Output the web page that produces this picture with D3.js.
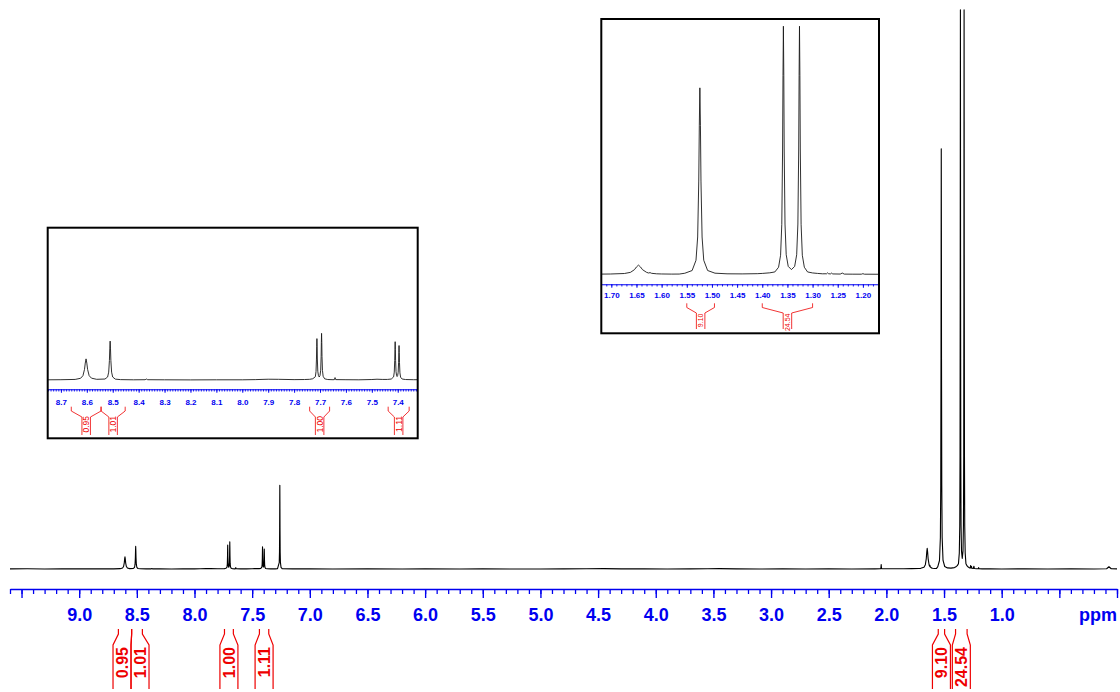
<!DOCTYPE html>
<html><head><meta charset="utf-8">
<script src="https://cdn.jsdelivr.net/npm/d3@7"></script>
<style>
html,body{margin:0;padding:0;background:#fff;}
svg{display:block;}
text{font-family:"Liberation Sans",Arial,Helvetica,sans-serif;}
</style></head><body>
<svg id="chart" width="1120" height="692"></svg>
<script>
// ---- spectrum trace: [ppm, intensity] (1.36 ppm peak = 100)
const spectrum = [
[9.60,0.02],[9.45,0.04],[9.30,0.01],[9.15,0.03],[9.00,0.02],[8.85,0.03],[8.75,0.02],[8.70,0.03],
[8.645,0.06],[8.624,0.18],[8.615,0.45],[8.609,1.1],[8.606,1.76],[8.603,2.2],[8.600,1.76],[8.597,1.1],[8.591,0.45],[8.582,0.19],[8.562,0.07],
[8.530,0.1],[8.5198,0.31],[8.5156,0.82],[8.5128,2.03],[8.5114,3.24],[8.510,4.05],[8.5086,3.24],[8.5072,2.03],[8.5044,0.82],[8.5002,0.31],[8.490,0.09],[8.470,0.04],
[8.42,0.02],[8.375,0.03],[8.370,0.1],[8.365,0.03],[8.30,0.02],[8.20,0.01],[8.10,0.02],[8.00,0.02],[7.95,0.04],[7.90,0.08],[7.86,0.07],[7.80,0.04],[7.76,0.05],
[7.740,0.07],[7.728,0.13],[7.718,0.34],[7.7154,0.89],[7.7137,2.18],[7.71285,3.46],[7.712,4.31],[7.7111,3.45],[7.7103,2.19],[7.7086,0.91],[7.7060,0.45],[7.7030,0.31],[7.7000,0.47],[7.6974,1.02],[7.6957,2.47],[7.69485,3.91],[7.694,4.86],[7.69315,3.89],[7.6923,2.45],[7.6906,1.0],[7.6880,0.39],[7.682,0.12],[7.670,0.05],[7.650,0.03],[7.6445,0.04],[7.642,0.25],[7.6395,0.04],[7.60,0.03],[7.55,0.02],[7.50,0.05],[7.48,0.08],[7.46,0.06],[7.44,0.06],
[7.425,0.1],[7.416,0.32],[7.4134,0.82],[7.4117,2.02],[7.41085,3.2],[7.410,3.99],[7.40915,3.2],[7.4083,2.02],[7.4066,0.87],[7.4045,0.45],[7.4025,0.36],[7.4005,0.45],[7.3984,0.79],[7.3967,1.84],[7.39585,2.89],[7.395,3.59],[7.39415,2.88],[7.3933,1.81],[7.3916,0.74],[7.389,0.29],[7.383,0.1],[7.37,0.05],[7.34,0.03],[7.30,0.03],
[7.28,0.06],[7.2653,1.13],[7.263,3.0],[7.2615,7.5],[7.26075,12.0],[7.26,15.0],[7.25925,12.0],[7.2585,7.5],[7.257,3.0],[7.2547,1.13],[7.2495,0.3],[7.24,0.06],
[7.15,0.02],[7.0,0.03],[6.8,0.01],[6.5,0.02],[6.2,0.0],[6.0,0.02],[5.7,0.01],[5.5,0.02],[5.2,0.0],[5.0,0.01],[4.8,0.03],[4.6,0.05],[4.45,0.07],[4.3,0.03],[4.1,0.02],[3.9,0.01],[3.7,0.02],[3.55,0.05],[3.45,0.06],[3.3,0.02],[3.1,0.01],[2.9,0.02],[2.7,0.01],[2.5,0.02],[2.3,0.01],[2.1,0.03],
[2.05,0.04],[2.047,0.3],[2.045,0.8],[2.043,0.3],[2.04,0.04],[1.95,0.04],[1.85,0.05],[1.78,0.07],
[1.72,0.08],[1.702,0.12],[1.674,0.32],[1.662,0.78],[1.654,1.87],[1.650,2.97],[1.646,3.7],[1.642,2.97],[1.638,1.87],[1.630,0.8],[1.626,0.52],[1.623,0.68],[1.620,0.4],[1.610,0.2],[1.60,0.13],[1.58,0.08],[1.565,0.1],
[1.554,0.42],[1.5394,1.52],[1.5317,5.66],[1.5284,15.07],[1.5262,37.66],[1.5251,60.2],[1.524,75.3],[1.5229,60.2],[1.5218,37.65],[1.5196,15.07],[1.5163,5.67],[1.5086,1.53],[1.494,0.45],[1.47,0.2],[1.44,0.16],[1.41,0.25],
[1.40,0.35],[1.385,0.6],[1.375,0.95],[1.3676,2.85],[1.3636,7.7],[1.3612,20.2],[1.3596,50.2],[1.3588,80.2],[1.358,100.2],[1.3572,80.2],[1.3564,50.2],[1.3548,20.3],[1.3524,7.9],[1.3484,3.2],[1.342,1.9],[1.3356,3.2],[1.3316,7.9],[1.3292,20.3],[1.3276,50.2],[1.3268,80.2],[1.326,100.2],[1.3252,80.2],[1.3244,50.2],[1.3228,20.2],[1.3204,7.7],[1.3164,2.85],[1.31,0.95],[1.30,0.55],[1.29,0.35],[1.28,0.2],
[1.272,0.22],[1.27,0.6],[1.268,0.2],[1.264,0.18],[1.262,0.5],[1.26,0.15],[1.245,0.1],[1.241,0.5],[1.237,0.08],[1.22,0.05],[1.203,0.04],[1.20,0.25],[1.197,0.04],[1.17,0.02],[1.10,0.02],[1.0,0.01],[0.8,0.02],[0.6,0.01],[0.4,0.02],[0.2,0.01],[0.09,0.04],[0.07,0.4],[0.05,0.04],[0.0,0.02]
];

// ---- main axis ticks
const mainMajorTicks = [9.5,9.0,8.5,8.0,7.5,7.0,6.5,6.0,5.5,5.0,4.5,4.0,3.5,3.0,2.5,2.0,1.5,1.0,0.5,0.0];
const mainTickLabels = ["","9.0","8.5","8.0","7.5","7.0","6.5","6.0","5.5","5.0","4.5","4.0","3.5","3.0","2.5","2.0","1.5","1.0","",""];
const axisUnit = "ppm";

// ---- integrals
const integralFrom   = [8.660, 8.545, 7.740, 7.437, 1.550, 1.400];
const integralTo     = [8.545, 8.452, 7.663, 7.356, 1.495, 1.300];
const integralLabels = ["0.95","1.01","1.00","1.11","9.10","24.54"];

// ---- insets
const inset1Ticks = [8.7,8.6,8.5,8.4,8.3,8.2,8.1,8.0,7.9,7.8,7.7,7.6,7.5,7.4];
const inset1TickLabels = ["8.7","8.6","8.5","8.4","8.3","8.2","8.1","8.0","7.9","7.8","7.7","7.6","7.5","7.4"];
const inset1Integrals = [0,1,2,3];
const inset2Ticks = [1.70,1.65,1.60,1.55,1.50,1.45,1.40,1.35,1.30,1.25,1.20];
const inset2TickLabels = ["1.70","1.65","1.60","1.55","1.50","1.45","1.40","1.35","1.30","1.25","1.20"];
const inset2Integrals = [4,5];

const BLUE = "#0000f0", RED = "#ee0000";
const svg = d3.select("#chart");

function drawAxis(g, x, y0, majors, labels, minors, majLen, minLen, lw, fontSize, labelY, fmtDigits) {
  const gMin = g.append("g").attr("transform", `translate(0,${y0})`)
    .call(d3.axisBottom(x).tickValues(minors).tickSize(minLen).tickSizeOuter(0).tickFormat(""));
  gMin.select(".domain").attr("stroke", BLUE).attr("stroke-width", lw);
  gMin.selectAll(".tick line").attr("stroke", BLUE).attr("stroke-width", lw*0.8);
  const labMap = new Map(majors.map((v,i)=>[v.toFixed(fmtDigits), labels[i]]));
  const gMaj = g.append("g").attr("transform", `translate(0,${y0})`)
    .call(d3.axisBottom(x).tickValues(majors).tickSize(majLen).tickSizeOuter(0)
      .tickFormat(d => labMap.get(d.toFixed(fmtDigits)) || ""));
  gMaj.select(".domain").remove();
  gMaj.selectAll(".tick line").attr("stroke", BLUE).attr("stroke-width", lw*0.85);
  gMaj.selectAll(".tick text").attr("y", labelY).attr("dy", 0).attr("fill", BLUE)
    .style("font-size", fontSize+"px").style("font-weight", "bold")
    .style("font-family", '"Liberation Sans",Arial,sans-serif');
}

function layoutBoxes(centers, w) {
  // centers ascending in pixel order; returns [left,right] per item
  const order = centers.map((c,i)=>({c,i})).sort((a,b)=>a.c-b.c);
  let clusters = [];
  order.forEach(o => {
    clusters.push({items:[o.i], sum:o.c});
    while (clusters.length > 1) {
      const a = clusters[clusters.length-2], b = clusters[clusters.length-1];
      const ra = a.sum/a.items.length + a.items.length*w/2;
      const lb = b.sum/b.items.length - b.items.length*w/2;
      if (lb < ra) { clusters.splice(-2, 2, {items:a.items.concat(b.items), sum:a.sum+b.sum}); }
      else break;
    }
  });
  const out = [];
  clusters.forEach(cl => {
    const n = cl.items.length, left = cl.sum/n - n*w/2;
    cl.items.forEach((idx,k) => out[idx] = [left + k*w, left + (k+1)*w]);
  });
  return out;
}

function drawIntegrals(g, x, idxs, geo) {
  const xs = idxs.map(i => [x(integralFrom[i]), x(integralTo[i])].sort((a,b)=>a-b));
  const boxes = layoutBoxes(xs.map(p => (p[0]+p[1])/2), geo.w);
  idxs.forEach((idx, k) => {
    const [xl, xr] = xs[k], [bl, br] = boxes[k];
    const p = d3.path();
    p.moveTo(xl, geo.top); p.lineTo(xl, geo.s0); p.lineTo(bl, geo.s1); p.lineTo(bl, geo.bottom);
    p.moveTo(xr, geo.top); p.lineTo(xr, geo.s0); p.lineTo(br, geo.s1); p.lineTo(br, geo.bottom);
    g.append("path").attr("d", p.toString()).attr("fill", "none").attr("stroke", RED).attr("stroke-width", geo.lw);
    const cx = (bl+br)/2;
    g.append("text").attr("transform", `translate(${cx},${geo.text}) rotate(-90)`)
      .attr("text-anchor", "end").attr("dy", "0.36em").attr("fill", RED)
      .style("font-size", geo.fs+"px").style("font-weight", geo.fw)
      .text(integralLabels[idx]);
  });
}

// ================= main spectrum =================
const xMain = d3.scaleLinear().domain([9.6, 0]).range([10, 1117]);
const yMain = d3.scaleLinear().domain([0, 100]).range([569, 11]);
const mkLine = (x, y) => d3.line().x(d => x(d[0])).y(d => y(d[1]));

svg.append("path").datum(spectrum).attr("d", mkLine(xMain, yMain))
  .attr("fill", "none").attr("stroke", "#000").attr("stroke-width", 1.1).attr("stroke-linejoin", "round");

const minorMain = d3.range(0, 97).map(i => i/10);
drawAxis(svg.append("g"), xMain, 589, mainMajorTicks, mainTickLabels, minorMain, 9, 5, 1.6, 18, 32, 1);
svg.append("text").attr("x", xMain(0)).attr("y", 621).attr("text-anchor", "end")
  .attr("fill", BLUE).style("font-size", "18px").style("font-weight", "bold").text(axisUnit);

drawIntegrals(svg.append("g"), xMain, [0,1,2,3,4,5],
  {w: 18, top: 629, s0: 634, s1: 645, bottom: 689, text: 647, fs: 16, fw: "bold", lw: 1.2});

// ================= inset 1 (aromatic region) =================
function drawInset(cfg) {
  const g = svg.append("g");
  const {x0, y0, w, h} = cfg.box;
  g.append("rect").attr("x", x0).attr("y", y0).attr("width", w).attr("height", h).attr("fill", "#fff");
  const clipId = cfg.id + "clip";
  svg.append("defs").append("clipPath").attr("id", clipId)
    .append("rect").attr("x", x0).attr("y", y0).attr("width", w).attr("height", h);
  const x = d3.scaleLinear().domain(cfg.domain).range([x0, x0 + w]);
  const y = d3.scaleLinear().domain([0, 100]).range([cfg.base, cfg.base - 100*cfg.pxPerUnit]);
  const inner = g.append("g").attr("clip-path", `url(#${clipId})`);
  inner.append("path").datum(spectrum).attr("d", mkLine(x, y))
    .attr("fill", "none").attr("stroke", "#1a1a1a").attr("stroke-width", 0.9).attr("stroke-linejoin", "round");
  drawAxis(inner, x, cfg.axisY, cfg.ticks, cfg.tickLabels, cfg.minors, 3.5, 2.2, 1.1, cfg.fs, cfg.labelY, cfg.digits);
  drawIntegrals(inner, x, cfg.integrals, cfg.geo);
  g.append("rect").attr("x", x0).attr("y", y0).attr("width", w).attr("height", h)
    .attr("fill", "none").attr("stroke", "#000").attr("stroke-width", 2);
}

drawInset({
  id: "in1", box: {x0: 47.7, y0: 227.7, w: 370, h: 210.6},
  domain: [8.751, 7.323], base: 380, pxPerUnit: 9.6, axisY: 389.3,
  ticks: inset1Ticks, tickLabels: inset1TickLabels,
  minors: d3.range(733, 876).map(i => i/100), fs: 8, labelY: 15.7, digits: 1,
  integrals: inset1Integrals,
  geo: {w: 8.5, top: 406.7, s0: 411, s1: 417, bottom: 435, text: 416, fs: 8.5, fw: "normal", lw: 0.8}
});

drawInset({
  id: "in2", box: {x0: 601.3, y0: 19, w: 277.7, h: 314.3},
  domain: [1.7199, 1.168], base: 274.3, pxPerUnit: 2.476, axisY: 284.3,
  ticks: inset2Ticks, tickLabels: inset2TickLabels,
  minors: d3.range(117, 172).map(i => i/100), fs: 8, labelY: 13.5, digits: 2,
  integrals: inset2Integrals,
  geo: {w: 8.5, top: 303.3, s0: 307.5, s1: 313, bottom: 329, text: 313.5, fs: 7, fw: "normal", lw: 0.8}
});
</script>
</body></html>
